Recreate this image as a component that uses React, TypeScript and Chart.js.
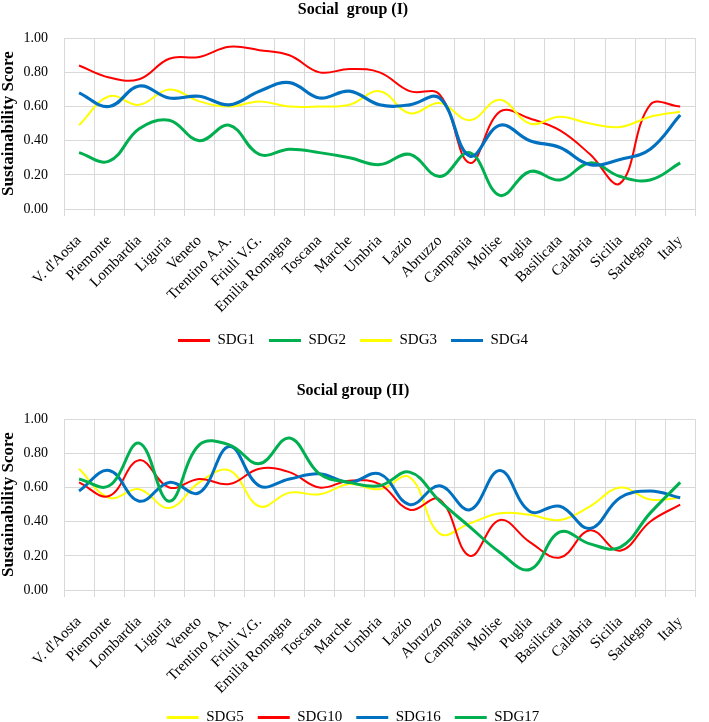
import React, { useEffect, useRef } from 'react';
import { Chart, registerables } from 'chart.js';

Chart.register(...registerables);

const categories = [
  'V. d\'Aosta', 'Piemonte', 'Lombardia', 'Liguria', 'Veneto', 'Trentino A.A.',
  'Friuli V.G.', 'Emilia Romagna', 'Toscana', 'Marche', 'Umbria', 'Lazio',
  'Abruzzo', 'Campania', 'Molise', 'Puglia', 'Basilicata', 'Calabria',
  'Sicilia', 'Sardegna', 'Italy',
];

// Social group (I)
const sdg1 = [0.84, 0.77, 0.76, 0.88, 0.89, 0.95, 0.93, 0.90, 0.80, 0.82, 0.80, 0.69, 0.67, 0.27, 0.57, 0.53, 0.46, 0.32, 0.15, 0.61, 0.60];
const sdg2 = [0.33, 0.28, 0.47, 0.52, 0.40, 0.49, 0.32, 0.35, 0.33, 0.30, 0.26, 0.32, 0.19, 0.33, 0.08, 0.22, 0.17, 0.27, 0.19, 0.17, 0.27];
const sdg3 = [0.49, 0.66, 0.61, 0.70, 0.63, 0.60, 0.63, 0.60, 0.60, 0.61, 0.69, 0.56, 0.62, 0.52, 0.64, 0.50, 0.54, 0.50, 0.48, 0.54, 0.57];
const sdg4 = [0.68, 0.60, 0.72, 0.65, 0.66, 0.61, 0.69, 0.74, 0.65, 0.69, 0.61, 0.61, 0.65, 0.31, 0.49, 0.40, 0.36, 0.26, 0.29, 0.35, 0.55];

// Social group (II)
const sdg5 = [0.71, 0.54, 0.59, 0.48, 0.63, 0.70, 0.49, 0.57, 0.56, 0.62, 0.59, 0.66, 0.33, 0.39, 0.45, 0.44, 0.41, 0.49, 0.60, 0.53, 0.54];
const sdg10 = [0.63, 0.55, 0.76, 0.60, 0.65, 0.62, 0.71, 0.69, 0.60, 0.64, 0.62, 0.47, 0.53, 0.20, 0.41, 0.28, 0.19, 0.35, 0.23, 0.40, 0.50];
const sdg16 = [0.58, 0.70, 0.52, 0.63, 0.57, 0.84, 0.61, 0.65, 0.68, 0.63, 0.68, 0.50, 0.61, 0.47, 0.70, 0.46, 0.49, 0.36, 0.54, 0.58, 0.54];
const sdg17 = [0.65, 0.61, 0.86, 0.52, 0.85, 0.85, 0.74, 0.89, 0.68, 0.63, 0.61, 0.69, 0.52, 0.37, 0.22, 0.12, 0.34, 0.27, 0.25, 0.45, 0.63];

const yTicksMin = 0;
const yTicksMax = 1;
const yStep = 0.1;

const RED = '#FF0000';
const GREEN = '#00B050';
const YELLOW = '#FFFF00';
const BLUE = '#0070C0';

const FAMILY = "'Liberation Serif', 'Times New Roman', serif";

type Series = { label: string; data: number[]; color: string; width: number };

const group1: Series[] = [
  { label: 'SDG1', data: sdg1, color: RED, width: 2 },
  { label: 'SDG2', data: sdg2, color: GREEN, width: 3 },
  { label: 'SDG3', data: sdg3, color: YELLOW, width: 2 },
  { label: 'SDG4', data: sdg4, color: BLUE, width: 3.2 },
];

const group2: Series[] = [
  { label: 'SDG5', data: sdg5, color: YELLOW, width: 2 },
  { label: 'SDG10', data: sdg10, color: RED, width: 2 },
  { label: 'SDG16', data: sdg16, color: BLUE, width: 3 },
  { label: 'SDG17', data: sdg17, color: GREEN, width: 3 },
];

function buildConfig(title: string, series: Series[], padBottom: number, xHeight: number): any {
  const n = series.length;
  return {
    type: 'line',
    data: {
      labels: categories,
      datasets: series.map((s, i) => ({
        label: s.label,
        data: s.data,
        borderColor: s.color,
        backgroundColor: s.color,
        borderWidth: s.width,
        pointRadius: 0,
        pointHoverRadius: 0,
        tension: 0.4,
        fill: false,
        order: n - i,
      })),
    },
    options: {
      animation: false,
      responsive: false,
      events: [],
      layout: { padding: { left: 0, right: 3, top: 0, bottom: padBottom } },
      plugins: {
        title: {
          display: true,
          text: title,
          color: '#000',
          font: { family: FAMILY, size: 16, weight: 'bold' },
          padding: { top: 0, bottom: 19 },
        },
        legend: {
          position: 'bottom',
          labels: {
            boxWidth: 32,
            boxHeight: 3,
            padding: 14,
            color: '#000',
            font: { family: FAMILY, size: 15 },
            generateLabels: (chart: any) =>
              chart.data.datasets.map((ds: any, i: number) => ({
                text: ds.label,
                fillStyle: ds.borderColor,
                strokeStyle: ds.borderColor,
                lineWidth: 0,
                hidden: false,
                datasetIndex: i,
                fontColor: '#000',
              })),
          },
        },
        tooltip: { enabled: false },
      },
      scales: {
        x: {
          offset: true,
          grid: { offset: true, color: '#D9D9D9', tickLength: 7, drawTicks: true },
          border: { color: '#D9D9D9' },
          ticks: {
            autoSkip: false,
            minRotation: 45,
            maxRotation: 45,
            color: '#000',
            padding: 16,
            font: { family: FAMILY, size: 15 },
          },
          afterFit: (s: any) => {
            s.height = xHeight;
          },
        },
        y: {
          min: yTicksMin,
          max: yTicksMax,
          ticks: {
            stepSize: yStep,
            color: '#000',
            padding: 16,
            font: { family: FAMILY, size: 14 },
            callback: (v: any) => Number(v).toFixed(2),
          },
          grid: { color: '#D9D9D9', drawTicks: false },
          border: { color: '#D9D9D9' },
          title: {
            display: true,
            text: 'Sustainability Score',
            color: '#000',
            font: { family: FAMILY, size: 17, weight: 'bold', lineHeight: 1 },
            padding: { top: 0, bottom: 4 },
          },
          afterFit: (s: any) => {
            s.width = 64;
          },
        },
      },
    },
  };
}

function LineChart({ title, series, top, padBottom, xHeight }: { title: string; series: Series[]; top: number; padBottom: number; xHeight: number }) {
  const ref = useRef<HTMLCanvasElement>(null);
  useEffect(() => {
    const chart = new Chart(ref.current as HTMLCanvasElement, buildConfig(title, series, padBottom, xHeight));
    return () => chart.destroy();
  }, []);
  return (
    <div style={{ position: 'absolute', left: 0, top, width: 709, height: 360 }}>
      <canvas ref={ref} width={709} height={360} style={{ display: 'block' }} />
    </div>
  );
}

export default function App() {
  return (
    <div
      style={{
        position: 'absolute',
        left: 0,
        top: 0,
        width: 709,
        height: 722,
        overflow: 'hidden',
        background: '#fff',
      }}
    >
      <LineChart title={'Social  group (I)'} series={group1} top={0} padBottom={2} xHeight={110} />
      <LineChart title={'Social group (II)'} series={group2} top={381} padBottom={6} xHeight={106} />
    </div>
  );
}
